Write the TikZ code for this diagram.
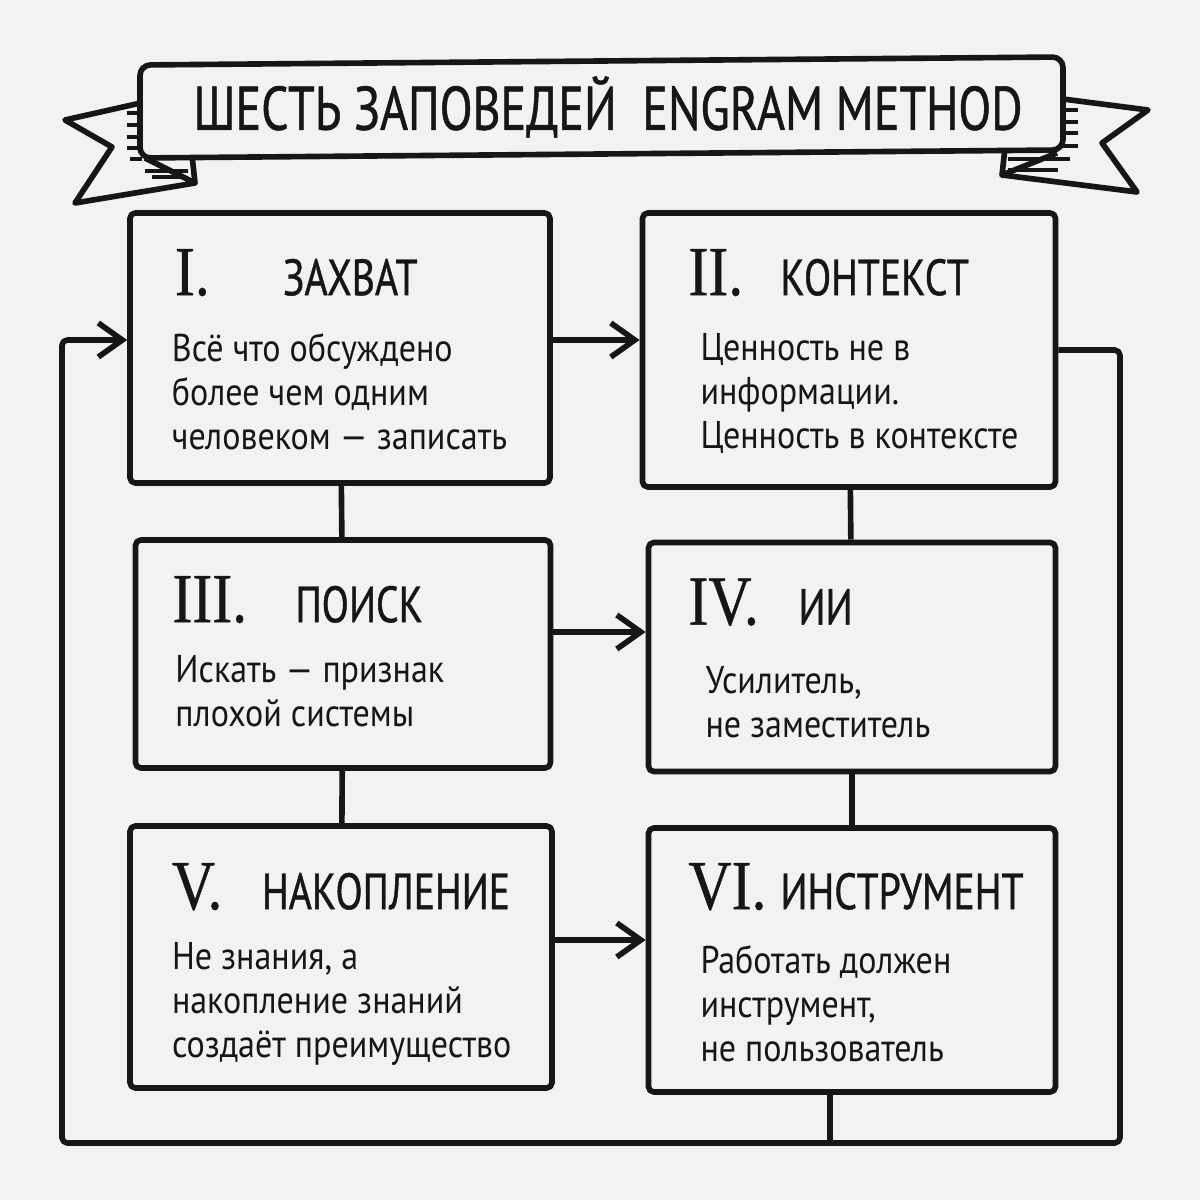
\documentclass[tikz,border=0pt]{standalone}
\usepackage{fontspec}
\setmainfont{PT Sans}
\newfontfamily\handfont[FakeStretch=0.78,FakeBold=0.8]{PT Sans}
\newfontfamily\bodyfont[FakeStretch=0.88]{PT Sans}
\newfontfamily\numfont[FakeStretch=0.85,FakeBold=0.6]{Liberation Serif}
\usetikzlibrary{positioning,arrows.meta}
\definecolor{paper}{RGB}{243,242,240}
\definecolor{ink}{RGB}{22,22,22}

\begin{document}
\begin{tikzpicture}[color=ink, line width=1.6pt, line join=round,
  flow/.style={-{Straight Barb[length=2.4mm,width=3.4mm]}}]
\useasboundingbox (0,0) rectangle (12,12);
\fill[paper] (0,0) rectangle (12,12);

% banner
\begin{scope}[fill=paper]
  \filldraw (1.45,10.98) -- (0.65,10.80) -- (1.12,10.53) -- (0.75,9.97) -- (1.95,10.17) -- (1.92,10.45);
  \draw (1.45,10.42) -- (1.95,10.17);
  \filldraw (10.55,11.02) -- (11.48,10.90) -- (11.02,10.57) -- (11.37,10.08) -- (10.02,10.25) -- (10.05,10.52);
  \draw (10.57,10.47) -- (10.02,10.25);
  \filldraw[rounded corners=3pt] (1.40,11.35) -- (10.63,11.43) -- (10.63,10.50) -- (1.40,10.42) -- cycle;
\end{scope}
\draw[line width=0.9pt] (1.27,10.87) -- (1.42,10.87) (1.27,10.75) -- (1.42,10.75)
  (1.27,10.63) -- (1.42,10.63) (1.27,10.52) -- (1.42,10.52) (1.30,10.41) -- (1.42,10.41)
  (1.45,10.29) -- (1.88,10.29) (1.52,10.23) -- (1.80,10.23);
\draw[line width=0.9pt] (10.63,10.90) -- (10.78,10.90) (10.63,10.78) -- (10.78,10.78)
  (10.63,10.67) -- (10.78,10.67) (10.63,10.54) -- (10.78,10.54)
  (10.08,10.41) -- (10.70,10.41) (10.08,10.30) -- (10.58,10.30);
\node (title) at (6.08,10.93) {\handfont\fontsize{17.5}{17.5}\selectfont ШЕСТЬ ЗАПОВЕДЕЙ\ \ ENGRAM METHOD};

% boxes
\begin{scope}[every node/.style={draw, fill=paper, rounded corners=1.5pt, inner sep=0pt}]
  \node[minimum width=4.20cm, minimum height=2.70cm] (b1) at (3.40,8.52) {};
  \node[minimum width=4.13cm, minimum height=2.74cm] (b2) at (8.49,8.50) {};
  \node[minimum width=4.15cm, minimum height=2.28cm] (b3) at (3.43,5.46) {};
  \node[minimum width=4.07cm, minimum height=2.29cm] (b4) at (8.52,5.43) {};
  \node[minimum width=4.22cm, minimum height=2.62cm] (b5) at (3.41,2.43) {};
  \node[minimum width=4.07cm, minimum height=2.64cm] (b6) at (8.52,2.40) {};
\end{scope}

% numerals and headings
\begin{scope}[every node/.style={inner sep=0pt, anchor=base west}]
  \node[font=\numfont\fontsize{20}{20}\selectfont, below right=0.85cm and 0.45cm of b1.north west, anchor=base west] (n1) {I.};
  \node[font=\numfont\fontsize{20}{20}\selectfont, below right=0.85cm and 0.46cm of b2.north west, anchor=base west] (n2) {II.};
  \node[font=\numfont\fontsize{20}{20}\selectfont, below right=0.85cm and 0.37cm of b3.north west, anchor=base west] (n3) {III.};
  \node[font=\numfont\fontsize{20}{20}\selectfont, below right=0.85cm and 0.40cm of b4.north west, anchor=base west] (n4) {IV.};
  \node[font=\numfont\fontsize{20}{20}\selectfont, below right=0.86cm and 0.42cm of b5.north west, anchor=base west] (n5) {V.};
  \node[font=\numfont\fontsize{20}{20}\selectfont, below right=0.84cm and 0.40cm of b6.north west, anchor=base west] (n6) {VI.};
  \node[font=\handfont\fontsize{14.5}{14.5}\selectfont, below right=0.85cm and 1.53cm of b1.north west, anchor=base west] (h1) {ЗАХВАТ};
  \node[font=\handfont\fontsize{14.5}{14.5}\selectfont, below right=0.85cm and 1.38cm of b2.north west, anchor=base west] (h2) {КОНТЕКСТ};
  \node[font=\handfont\fontsize{14.5}{14.5}\selectfont, below right=0.85cm and 1.60cm of b3.north west, anchor=base west] (h3) {ПОИСК};
  \node[font=\handfont\fontsize{14.5}{14.5}\selectfont, below right=0.85cm and 1.50cm of b4.north west, anchor=base west] (h4) {ИИ};
  \node[font=\handfont\fontsize{14.5}{14.5}\selectfont, below right=0.86cm and 1.32cm of b5.north west, anchor=base west] (h5) {НАКОПЛЕНИЕ};
  \node[font=\handfont\fontsize{14.5}{14.5}\selectfont, below right=0.84cm and 1.32cm of b6.north west, anchor=base west] (h6) {ИНСТРУМЕНТ};
\end{scope}

% texts
\begin{scope}[every node/.style={font=\bodyfont\fontsize{11}{12.6}\selectfont, align=left, inner sep=0pt, anchor=north west}]
  \node[below right=1.20cm and 0.42cm of b1.north west, anchor=north west] (t1) {Всё что обсуждено\\более чем одним\\человеком — записать};
  \node[below right=1.20cm and 0.58cm of b2.north west, anchor=north west] (t2) {Ценность не в\\информации.\\Ценность в контексте};
  \node[below right=1.15cm and 0.40cm of b3.north west, anchor=north west] (t3) {Искать — признак\\плохой системы};
  \node[below right=1.24cm and 0.57cm of b4.north west, anchor=north west] (t4) {Усилитель,\\не заместитель};
  \node[below right=1.16cm and 0.42cm of b5.north west, anchor=north west] (t5) {Не знания, а\\накопление знаний\\создаёт преимущество};
  \node[below right=1.17cm and 0.52cm of b6.north west, anchor=north west] (t6) {Работать должен\\инструмент,\\не пользователь};
\end{scope}

% links
\path [-] (b1) edge (b3);
\path [-] (b3) edge (b5);
\path [-] (b2) edge (b4);
\path [-] (b4) edge (b6);
\path [flow] ([yshift=0.8mm]b1.east) edge ([yshift=0.8mm]b1.east -| b2.west);
\path [flow] ([yshift=2.2mm]b3.east) edge ([yshift=2.2mm]b3.east -| b4.west);
\path [flow] ([yshift=1.7mm]b5.east) edge ([yshift=1.7mm]b5.east -| b6.west);

% return loop
\coordinate (loopNE) at (11.20,8.50);
\coordinate (loopSE) at (11.20,0.57);
\coordinate (loopSW) at (0.62,0.57);
\coordinate (loopNW) at (0.62,8.60);
\coordinate (tap) at (8.30,0.57);
\draw [flow, rounded corners=1.5pt] (b2.east) -- (loopNE) -- (loopSE) -- (loopSW) -- (loopNW) -- (loopNW -| b1.west);
\draw (b6.south -| tap) -- (tap);
\end{tikzpicture}
\end{document}
